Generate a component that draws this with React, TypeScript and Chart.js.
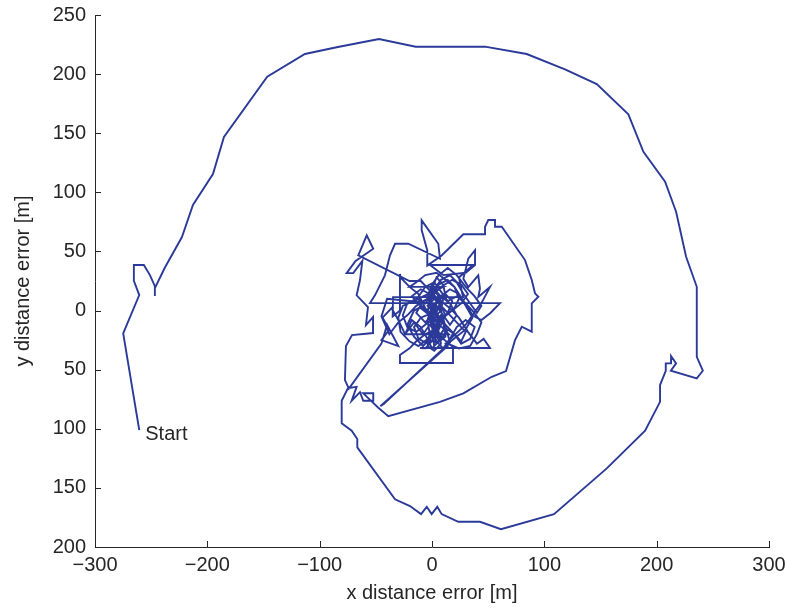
import React, { useEffect, useRef } from "react";
import { Chart, registerables } from "chart.js";

Chart.register(...registerables);

// Outer spiral: from the start point, up the left side, over the top, down the right side, along the bottom
const outerX = [-260.6, -274.9, -260.6, -265.4, -265.4, -256.5, -251.1, -246.7, -246.7, -246.7, -238, -222.6, -212.8, -195.0, -185.2, -146.7, -113.1, -84.9, -47.2, -14.5, 47.2, 84.3, 118.4, 146.7, 174.8, 188.2, 207.5, 217.3, 226.2, 235.7, 235.7, 241.1, 235.7, 212.6, 217.3, 212.8, 212.8, 208.1, 208.1, 203.0, 203.0, 189.7, 155.6, 108.6, 61.4, 42.7, 23.4, 8.6, 4.7, -0.3, -4.7, -9.8, -19.6, -32.9, -66.5, -66.5, -71.5, -80.4, -80.4];
const outerY = [-101.1, -19.3, 13.1, 25.2, 38.5, 38.5, 30.0, 20.7, 12.3, 19, 36, 62.2, 89.3, 115.5, 146.8, 197.8, 217.0, 222.7, 229.7, 223.2, 223.2, 217.0, 204.1, 191.6, 166.0, 134.3, 109.0, 83.6, 45.5, 20.1, -39.1, -50.9, -57.4, -50.9, -44.7, -38.5, -44.7, -44.7, -50.9, -63.0, -77.2, -101.7, -133.5, -172.2, -184.9, -178.7, -178.7, -172.2, -166.0, -172.2, -166.0, -172.2, -165.4, -159.7, -115.7, -108.7, -101.7, -95.4, -76.3];

// Inner ring
const innerX = [-74.8, -67.1, -71.5, -64.1, -61.2, -52.3, -52.3, -61.2, -47.8, -38.9, 7.1, 27.9, 53.2, 65.9, 73.9, 79.9, 88.8, 88.8, 94.7, 91.7, 88.8, 82.8, 62.1, 56.1, 56.1, 50.1, 47.2, 47.2, 27.9, 8.6, -4.2, -4.2, -9.2, -9.2, 5.6, 7.1, -21.1, -32.9, -37.4, -41.9, -50.8, -55.2, 60.5];
const innerY = [-65.6, -64.5, -76.3, -69.0, -76.3, -76.3, -70.0, -70.0, -82.2, -89.3, -77.2, -70.0, -56.0, -51.2, -25.0, -13.7, -17.9, 6.1, 11.7, 14.6, 25.8, 42.7, 70.9, 70.9, 76.6, 76.6, 70.9, 64.5, 64.5, 46.6, 38.0, 50.9, 68.1, 76.3, 56.5, 43.8, 56.5, 56.5, 46.7, 29.8, 12.9, 6.3, 6.3];

// Dense central tangle, first part
const tangleAX = [52, 44, 36, 30, 22, 14, 8, 2, -6, -12, -10, -2, 6, 4, -4, -12, -16, -10, 0, 4, 0, 4, 10, 12, 6, 2, 0, 2, 8, 14, 20, 26, 34, 38, 30, 22, 16, 10, 4, 0, -4, -2, 4, 10, 8, 2, -6, -14, -22, -26, -22, -14, -6, 0, 6, 14, 20, 24, 20, 12, 6, 0, -6, -10.7, 51.6, 46, 40, 32, 24, 16, 8, 0, -4, -2, 4, 12, 10, 4, -2, 2, 8, 16, 22, 28, 34, 40, 44, 38, 30, 22, 14, 6, 0, -4, 0, 6, 2, -6, -14, -20, -28.5, -28.5, 18.7, 18.7, 10, 2, -2, 4, 12, 18, 14, 6, 0, -4, 2, 8, 6, 0, -6, -12, -20, -28, -28.5, -28.5, -35, -34.7, 27.6, 24, 36.5, -1.8, 10, 30, 38.3, 38.3, 32.3, 27.9, 32.3, 41.2, 42.7, 41.2, 51.6, 45, 30, 12, 14, -46, -43, 16, 5, -10, -20];
const tangleAY = [-2, -8, -4, 6, 12, 8, 16, 24, 20, 12, 2, -4, -12, -22, -28, -24, -14, -6, -2, 8, 18, 28, 22, 12, 4, -8, -18, -30, -24, -16, -20, -28, -24, -14, -8, -14, -24, -32, -26, -14, -2, 10, 16, 10, 0, -6, -12, -18, -14, -4, 6, 10, 6, 14, 22, 26, 20, 10, 2, -4, -16, -26, -32, -31.7, -31.7, -24, -28, -18, -6, 2, 8, 4, -8, -20, -28, -22, -10, -2, 6, 18, 26, 30, 24, 14, 6, -2, 4, 12, 20, 30, 36, 30, 22, 12, 0, -8, -16, -20, -26, -32, -37.6, -44.4, -44.4, -30.9, -24, -14, -4, 6, 14, 8, -2, -10, -20, -30, -34, -28, -18, -8, 2, 14, 20, 28, 31, 0, -5, 11.4, 11.4, 28, 38.5, 38.5, 30, 32, 38.5, 51.1, 43.8, 26.9, 19.9, 29.8, 18.4, 11.4, 19.9, 8, -12, -28, -30, -81, -79, -27, 10, 25, 25];

// Left lobes and left boundary
const lobeX = [-65.6, -58.1, -52.3, -68, -76, -70.1, -62, -64.1, -67.1, -57, -58.8, -52.5, -52.5, -71.2, -76.6, -77.5, -74, -45];
const lobeY = [46.7, 63.6, 52.3, 42, 31.7, 31.7, 42, 25.8, 12.9, 3, -12.3, -5.5, -19, -20.7, -30, -58.8, -66, -28];

// Dense central tangle, middle part
const tangleBX = [-40, -30, -45, -38, -44, -36, -30, -24, -16, -8, -2, 6, 12, 8, 2, -4, 0, 6, 3, -2, 4, 10, 16, 22, 16, 8, 2, -4, 0, 6, 2, 0, 4, 2, -40, -45, -38, -30];
const tangleBY = [-12, -30, -25, -16, -6, 2, -8, -20, -10, -20, -12, -22, -14, -4, -14, -24, -32, -26, -16, -6, 4, -4, -12, -4, 6, 12, 4, 10, 20, 12, 2, -6, 0, 6, 10, -5, -20, -10];

// Dense central tangle, last part
const tangleCX = [-22, -14, -4, 8, 16, 24, 30, 36, 30, 22, 14, 24, 34, 40, 44, 36, 28, 20, 12, 4, -6, -14, -20, 10, -26, -30, -28, -20, -12, -4, -10, -18, -24, 15, -18, -10, -2, 6, 14, 22, 30, 26, 18, 10, 2, -6, -14, -8, 0, 8, 18, 26, 32, 26, 18, 10, 4, -2, -8, -16, -22, -16, -8, 0, 6, 12, 8, 2, -4, 0];
const tangleCY = [-4, 4, 10, 12, 18, 14, 4, -6, -16, -22, -28, -32, -30, -20, -10, 0, 8, 20, 26, 32, 30, 24, 20, 20, 4, -6, -18, -26, -30, -24, -14, -8, -20, -20, 12, 18, 14, 6, -2, -10, -18, -26, -18, -10, -2, -10, -2, 8, 12, 20, 26, 22, 14, 6, 0, -6, -14, -24, -30, -22, -12, 0, 4, -4, -10, -4, 4, 10, 4, 0];

const xTicks = [-300, -200, -100, 0, 100, 200, 300];
const xTickLabels = ["\u2212300", "\u2212200", "\u2212100", "0", "100", "200", "300"];
const yTicks = [250, 200, 150, 100, 50, 0, -50, -100, -150, -200];
const yTickLabels = ["250", "200", "150", "100", "50", "0", "50", "100", "150", "200"];
const xTitle = "x distance error [m]";
const yTitle = "y distance error [m]";
const startLabel = "Start";

const FONT = '"Liberation Sans", Arial, Helvetica, sans-serif';
const TEXT = "#262626";
const LINE = "#2b3a98";

export default function App() {
  const ref = useRef<HTMLCanvasElement | null>(null);

  useEffect(() => {
    if (!ref.current) return;
    const xs = [...outerX, ...innerX, ...tangleAX, ...lobeX, ...tangleBX, ...tangleCX];
    const ys = [...outerY, ...innerY, ...tangleAY, ...lobeY, ...tangleBY, ...tangleCY];
    const pts = xs.map((x, i) => ({ x, y: ys[i] }));

    const extras = {
      id: "extras",
      afterDraw(chart: any) {
        const { ctx, chartArea, scales } = chart;
        const sx = scales.x;
        const sy = scales.y;
        ctx.save();
        ctx.strokeStyle = TEXT;
        ctx.lineWidth = 1;
        xTicks.forEach((v) => {
          const px = Math.round(sx.getPixelForValue(v)) + 0.5;
          ctx.beginPath();
          ctx.moveTo(px, chartArea.bottom);
          ctx.lineTo(px, chartArea.bottom - 6);
          ctx.stroke();
        });
        yTicks.forEach((v) => {
          const py = Math.round(sy.getPixelForValue(v)) + 0.5;
          ctx.beginPath();
          ctx.moveTo(chartArea.left, py);
          ctx.lineTo(chartArea.left + 6, py);
          ctx.stroke();
        });
        const px = sx.getPixelForValue(outerX[0]);
        const py = sy.getPixelForValue(outerY[0]);
        ctx.fillStyle = TEXT;
        ctx.font = `20px ${FONT}`;
        ctx.textAlign = "left";
        ctx.textBaseline = "middle";
        ctx.fillText(startLabel, px + 6, py + 4);
        ctx.restore();
      },
    };

    const zeroPad = (s: any) => {
      s.paddingTop = 0;
      s.paddingBottom = 0;
      s.paddingLeft = 0;
      s.paddingRight = 0;
    };

    const chart = new Chart(ref.current, {
      type: "scatter",
      data: {
        datasets: [
          {
            data: pts,
            showLine: true,
            borderColor: LINE,
            backgroundColor: LINE,
            borderWidth: 1.9,
            pointRadius: 0,
            tension: 0,
          },
        ],
      },
      options: {
        responsive: false,
        animation: false,
        layout: { padding: { top: 15, right: 18, left: 0, bottom: 0 } },
        plugins: { legend: { display: false }, tooltip: { enabled: false } },
        scales: {
          x: {
            type: "linear",
            min: -300,
            max: 300,
            afterFit: (s: any) => {
              s.height = 61;
              zeroPad(s);
            },
            afterBuildTicks: (s: any) => {
              s.ticks = xTicks.map((v) => ({ value: v }));
            },
            ticks: {
              color: TEXT,
              font: { family: FONT, size: 20 },
              padding: 6,
              maxRotation: 0,
              autoSkip: false,
              callback: (v: any) => {
                const i = xTicks.indexOf(Number(v));
                return i >= 0 ? xTickLabels[i] : "";
              },
            },
            grid: { display: true, drawOnChartArea: false, drawTicks: false },
            border: { display: true, color: TEXT, width: 1 },
            title: {
              display: true,
              text: xTitle,
              color: TEXT,
              font: { family: FONT, size: 20 },
              padding: { top: 0, bottom: 3 },
            },
          },
          y: {
            type: "linear",
            min: -200,
            max: 250,
            afterFit: (s: any) => {
              s.width = 95;
              zeroPad(s);
            },
            afterBuildTicks: (s: any) => {
              s.ticks = yTicks.map((v) => ({ value: v }));
            },
            ticks: {
              color: TEXT,
              font: { family: FONT, size: 20 },
              padding: 9,
              autoSkip: false,
              callback: (v: any) => {
                const i = yTicks.indexOf(Number(v));
                return i >= 0 ? yTickLabels[i] : "";
              },
            },
            grid: { display: true, drawOnChartArea: false, drawTicks: false },
            border: { display: true, color: TEXT, width: 1 },
            title: {
              display: true,
              text: yTitle,
              color: TEXT,
              font: { family: FONT, size: 20 },
              padding: { top: 11, bottom: 0 },
            },
          },
        },
      },
      plugins: [extras],
    });
    return () => chart.destroy();
  }, []);

  return (
    <div style={{ position: "absolute", left: 0, top: 0, width: 787, height: 608, background: "#fff" }}>
      <canvas ref={ref} width={787} height={608} style={{ display: "block" }} />
    </div>
  );
}
